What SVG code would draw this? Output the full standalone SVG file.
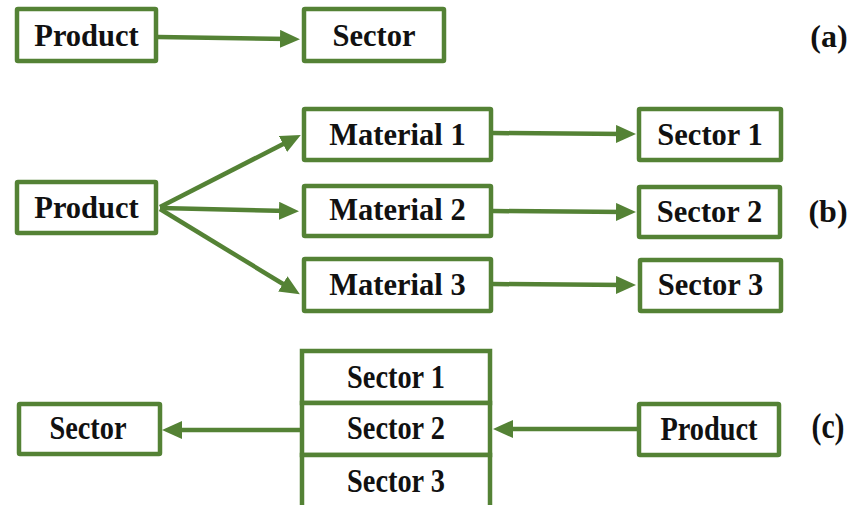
<svg xmlns="http://www.w3.org/2000/svg" width="859" height="505" viewBox="0 0 859 505">
<style>
.box{fill:#fff;stroke:#548235;stroke-width:4.5}
.t{font-family:"Liberation Serif","Times New Roman",serif;font-weight:bold;font-size:30.5px;fill:#111;text-anchor:middle}
.lbl{font-family:"Liberation Serif","Times New Roman",serif;font-weight:bold;font-size:32px;fill:#111;text-anchor:middle}
.c{stroke:#548235;stroke-width:4.5;fill:none;marker-end:url(#ah)}
</style>
<defs>
<marker id="ah" markerUnits="userSpaceOnUse" markerWidth="22" markerHeight="20" refX="9" refY="9" orient="auto">
<path d="M0,0 L20,9 L0,18 z" fill="#548235"/>
</marker>
</defs>
<g id="connectors">
<line class="c" x1="158" y1="37" x2="289" y2="39"/>
<line class="c" x1="160" y1="207" x2="291" y2="140"/>
<line class="c" x1="160" y1="208" x2="288" y2="211"/>
<line class="c" x1="160" y1="209" x2="290.5" y2="288.5"/>
<line class="c" x1="493" y1="133" x2="625" y2="134"/>
<line class="c" x1="493" y1="211" x2="625" y2="212"/>
<line class="c" x1="493" y1="284" x2="625" y2="285"/>
<line class="c" x1="300" y1="430" x2="173" y2="430"/>
<line class="c" x1="637" y1="429" x2="504" y2="429"/>
</g>
<g id="a-product"><rect class="box" x="17" y="9" width="139" height="52" rx="1"/><text class="t" x="86.5" y="46">Product</text></g>
<g id="a-sector"><rect class="box" x="304" y="9" width="140" height="52" rx="1"/><text class="t" x="374" y="46">Sector</text></g>
<text class="lbl" x="829" y="47">(a)</text>
<g id="b-product"><rect class="box" x="17" y="182" width="139" height="51" rx="1"/><text class="t" x="86.5" y="218">Product</text></g>
<g id="b-material1"><rect class="box" x="304" y="109" width="187" height="51" rx="1"/><text class="t" x="397.5" y="145">Material 1</text></g>
<g id="b-material2"><rect class="box" x="304" y="186" width="187" height="50" rx="1"/><text class="t" x="397.5" y="220">Material 2</text></g>
<g id="b-material3"><rect class="box" x="304" y="259" width="187" height="52" rx="1"/><text class="t" x="397.5" y="295">Material 3</text></g>
<g id="b-sector1"><rect class="box" x="639" y="109" width="142" height="51" rx="1"/><text class="t" x="710" y="145">Sector 1</text></g>
<g id="b-sector2"><rect class="box" x="639" y="187" width="141" height="50" rx="1"/><text class="t" x="709.5" y="222">Sector 2</text></g>
<g id="b-sector3"><rect class="box" x="640" y="260" width="141" height="51" rx="1"/><text class="t" x="710.5" y="295">Sector 3</text></g>
<text class="lbl" x="828" y="222">(b)</text>
<g id="c-sector"><rect class="box" x="19" y="404" width="141" height="50" rx="1"/><text class="t" transform="translate(88,439) scale(0.93,1.12)">Sector</text></g>
<g id="c-sector1"><rect class="box" x="302" y="351" width="188" height="52"/><text class="t" transform="translate(396,388) scale(0.93,1.12)">Sector 1</text></g>
<g id="c-sector2"><rect class="box" x="302" y="403" width="188" height="52"/><text class="t" transform="translate(396,439) scale(0.93,1.12)">Sector 2</text></g>
<g id="c-sector3"><rect class="box" x="302" y="455" width="188" height="60"/><text class="t" transform="translate(396,492) scale(0.93,1.12)">Sector 3</text></g>
<g id="c-product"><rect class="box" x="639" y="404" width="140" height="51" rx="1"/><text class="t" transform="translate(709,440) scale(0.93,1.12)">Product</text></g>
<text class="lbl" transform="translate(828,438) scale(0.93,1.12)">(c)</text>
</svg>
